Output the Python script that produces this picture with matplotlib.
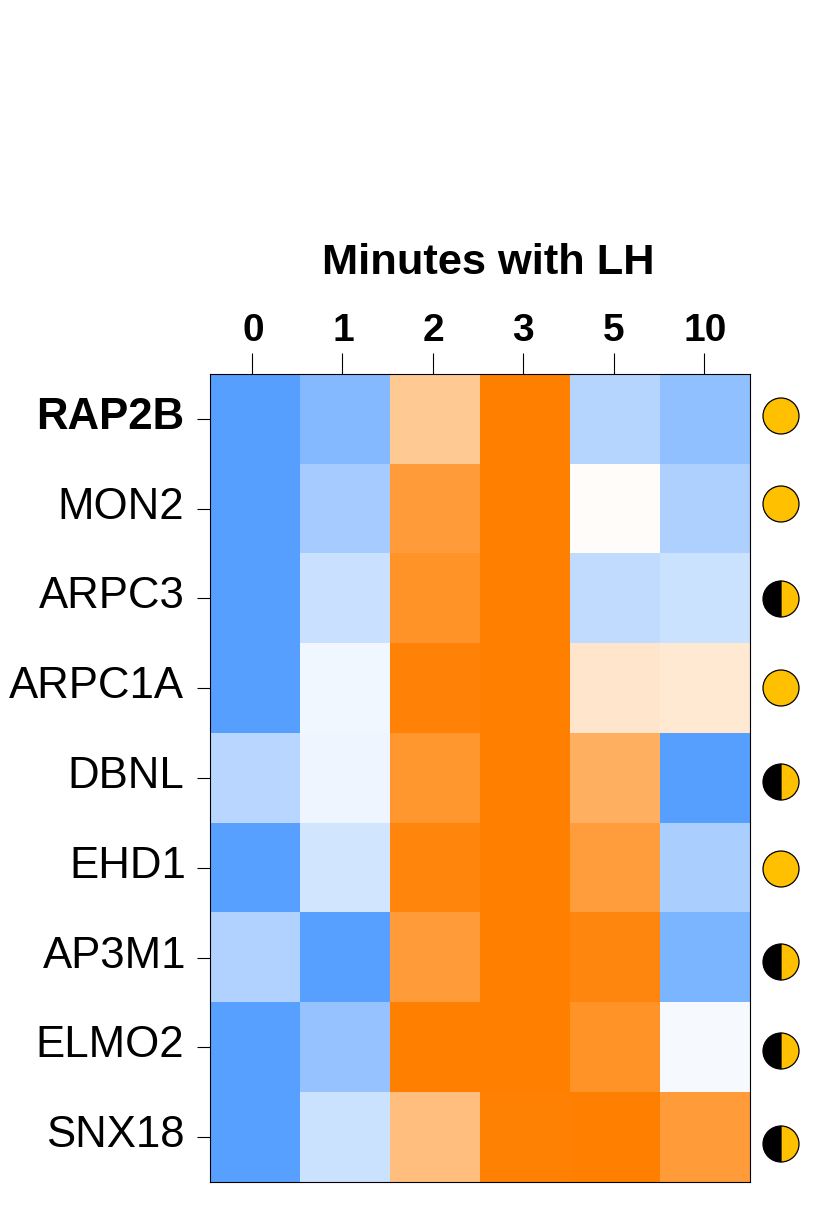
import matplotlib.pyplot as plt
from matplotlib.colors import LinearSegmentedColormap
from matplotlib.patches import Circle, Wedge
from matplotlib.transforms import ScaledTranslation
import numpy as np

plt.rcParams['font.family'] = ['Liberation Sans', 'DejaVu Sans']

W, H = 828, 1224

genes = ['RAP2B', 'MON2', 'ARPC3', 'ARPC1A', 'DBNL', 'EHD1', 'AP3M1', 'ELMO2', 'SNX18']
minutes = ['0', '1', '2', '3', '5', '10']
# -1 blue, 0 white, 1 orange
values = [
    [-1.00, -0.72, 0.42, 1.00, -0.43, -0.65],
    [-1.00, -0.52, 0.77, 1.00, 0.02, -0.48],
    [-1.00, -0.32, 0.84, 1.00, -0.36, -0.30],
    [-1.00, -0.08, 0.97, 1.00, 0.20, 0.17],
    [-0.42, -0.10, 0.82, 1.00, 0.62, -1.00],
    [-0.98, -0.26, 0.95, 1.00, 0.76, -0.50],
    [-0.46, -0.98, 0.77, 1.00, 0.94, -0.78],
    [-0.98, -0.61, 1.00, 1.00, 0.84, -0.05],
    [-0.98, -0.30, 0.50, 0.98, 1.00, 0.78],
]
# 1 = full circle, 0 = half black half orange
circle_full = [1, 1, 0, 1, 0, 1, 0, 0, 0]
circle_y = [416, 504, 599, 688, 782, 869, 962, 1051, 1144]

cmap = LinearSegmentedColormap.from_list('bwo', ['#569fff', '#ffffff', '#ff8000'])

fig = plt.figure(figsize=(W / 100, H / 100), dpi=100)
ax = fig.add_axes([210 / W, 1 - 1182 / H, 540 / W, 808 / H])
ax.imshow(np.array(values), cmap=cmap, vmin=-1, vmax=1, aspect='auto', interpolation='nearest')

# ticks sit a little left of the cell centres in the original
ax.xaxis.tick_top()
ax.set_xticks([-0.03, 0.97, 1.98, 2.98, 3.99, 4.99])
ax.set_xticklabels(minutes, fontsize=28, fontweight='bold')
ax.set_yticks(range(len(genes)))
ax.set_yticklabels(genes, fontsize=31.5)
ax.get_yticklabels()[0].set_fontweight('bold')
ax.tick_params(axis='x', length=15, width=0.8, pad=3)
ax.tick_params(axis='y', length=9.5, width=0.8, pad=7.5)
for s in ax.spines.values():
    s.set_linewidth(0.8)

# nudge labels in pixels
px = fig.dpi_scale_trans
for lab in ax.get_yticklabels():
    dx = 0 if lab.get_text() in ('EHD1', 'AP3M1') else -2
    lab.set_transform(lab.get_transform() + ScaledTranslation(dx / 100, 6 / 100, px))
for lab, dx in zip(ax.get_xticklabels(), [1.5, 1, 0, 0, 0, 1.5]):
    lab.set_transform(lab.get_transform() + ScaledTranslation(dx / 100, 0, px))

fig.text(488.5 / W, 1 - 263 / H, 'Minutes with LH', fontsize=31.2, fontweight='bold', ha='center', va='center')

# state markers right of the heatmap, drawn in pixel coordinates
ov = fig.add_axes([0, 0, 1, 1])
ov.set_xlim(0, W)
ov.set_ylim(H, 0)
ov.axis('off')
ov.patch.set_alpha(0)
for full, cy in zip(circle_full, circle_y):
    cx = 781
    if full:
        ov.add_patch(Circle((cx, cy), 18, fc='#ffc000', ec='black', lw=0.9))
    else:
        ov.add_patch(Wedge((cx, cy), 18, 90, 270, fc='black', ec='black', lw=0.9))
        ov.add_patch(Wedge((cx, cy), 18, 270, 90, fc='#ffc000', ec='black', lw=0.9))

fig.savefig('out.png', dpi=100)
